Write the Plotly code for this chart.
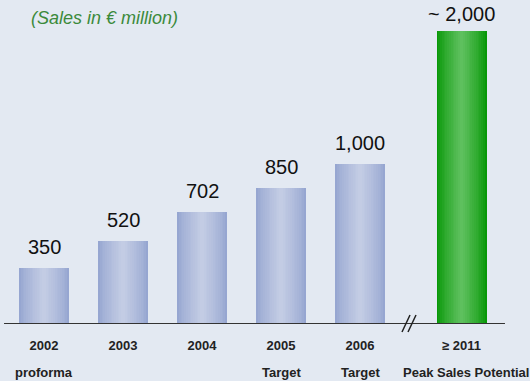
import plotly.graph_objects as go

# ---- data ----
years = ["2002", "2003", "2004", "2005", "2006"]
sub_labels = ["proforma", "", "", "Target", "Target"]
sales = [350, 520, 702, 850, 1000]
value_labels = ["350", "520", "702", "850", "1,000"]
peak_label = "≥ 2011"
peak_sub = "Peak Sales Potential"
peak_value = 2000
peak_text = "~ 2,000"

# ---- layout parameters ----
xpos = [0, 1, 2, 3, 4]
peak_x = 5.285
bar_w = 0.633
BG = "#E3E9F2"
FONT = "Liberation Sans, Arial, sans-serif"

def lerp(c1, c2, t):
    return "rgb(%d,%d,%d)" % tuple(round(a + (b - a) * t) for a, b in zip(c1, c2))

fig = go.Figure()
N = 14
blue_edge, blue_mid = (150, 166, 209), (195, 204, 228)
green_edge, green_mid = (8, 152, 8), (94, 192, 94)
for k in range(N):
    t = k / (N - 1)
    w = bar_w * (1 - k / N)
    fig.add_trace(go.Bar(x=xpos, y=sales, width=w,
                         marker=dict(color=lerp(blue_edge, blue_mid, t ** 0.8), line=dict(width=0)),
                         hoverinfo="skip", showlegend=False, yaxis="y"))
    fig.add_trace(go.Bar(x=[peak_x], y=[peak_value], width=w,
                         marker=dict(color=lerp(green_edge, green_mid, t ** 0.8), line=dict(width=0)),
                         hoverinfo="skip", showlegend=False, yaxis="y2"))

annotations = []
for x, v, s in zip(xpos, sales, value_labels):
    annotations.append(dict(x=x, y=v, xref="x", yref="y", text=s, showarrow=False,
                            yanchor="bottom", yshift=8,
                            font=dict(family=FONT, size=20, color="#111111")))
annotations.append(dict(x=peak_x, y=peak_value, xref="x", yref="y2", text=peak_text,
                        showarrow=False, yanchor="bottom", yshift=4,
                        font=dict(family=FONT, size=20, color="#111111")))
for x, s in zip(xpos + [peak_x + 0.06], sub_labels + [peak_sub]):
    if s:
        annotations.append(dict(x=x, y=0, xref="x", yref="paper", text="<b>%s</b>" % s,
                                showarrow=False, yanchor="middle", yshift=-48,
                                font=dict(family=FONT, size=13, color="#222222")))
annotations.append(dict(x=29 / 530, y=1 - 18 / 324, xref="paper", yref="paper",
                        text="<i>(Sales in € million)</i>", showarrow=False,
                        xanchor="left", yanchor="middle",
                        font=dict(family=FONT, size=18, color="#3b8a3b")))

shapes = [
    dict(type="line", xref="x", yref="y", x0=-0.506, x1=5.835, y0=0, y1=0,
         line=dict(color="#333333", width=2)),
    dict(type="line", xref="paper", yref="paper", x0=402 / 530, x1=410 / 530,
         y0=(324 - 332) / 324, y1=(324 - 315) / 324, line=dict(color="#222222", width=1.5)),
    dict(type="line", xref="paper", yref="paper", x0=408 / 530, x1=416 / 530,
         y0=(324 - 332) / 324, y1=(324 - 315) / 324, line=dict(color="#222222", width=1.5)),
]

fig.update_layout(
    width=530, height=381,
    margin=dict(l=0, r=0, t=0, b=57, autoexpand=False),
    paper_bgcolor=BG, plot_bgcolor=BG,
    barmode="overlay", bargap=0,
    showlegend=False,
    xaxis=dict(range=[-44 / 79, 486 / 79], tickvals=xpos + [peak_x],
               ticktext=["<b>%s</b>" % y for y in years] + ["<b>%s</b>" % peak_label],
               tickfont=dict(family=FONT, size=13, color="#222222"),
               showgrid=False, zeroline=False, showline=False, ticks="",
               ticklabelstandoff=12, fixedrange=True),
    yaxis=dict(range=[0, 2025], visible=False, fixedrange=True),
    yaxis2=dict(range=[0, 2211.6], visible=False, overlaying="y", fixedrange=True),
    annotations=annotations, shapes=shapes,
)
fig.write_html("out.html")
